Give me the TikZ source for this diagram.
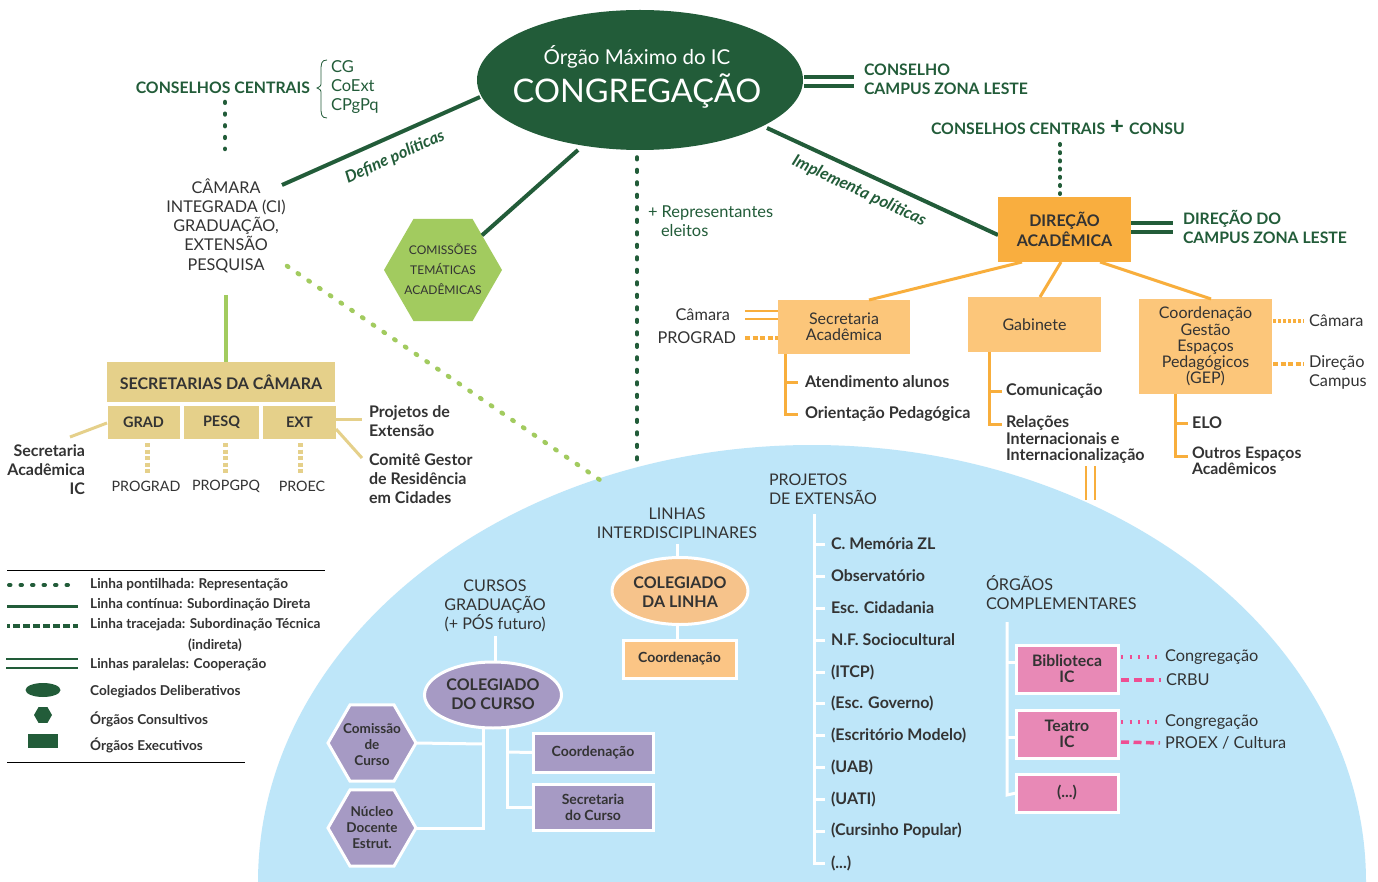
\documentclass[tikz,border=0pt]{standalone}
\usepackage{fontspec}
\setmainfont{Lato}
\usetikzlibrary{shapes.geometric}
\definecolor{dkg}{HTML}{225C39}
\definecolor{orgA}{HTML}{F9AE3F}
\definecolor{orgL}{HTML}{FCC67A}
\definecolor{orgLine}{HTML}{F8AE3C}
\definecolor{lgr}{HTML}{A2CB5F}
\definecolor{tanC}{HTML}{E5D08A}
\definecolor{domeC}{HTML}{BEE6F9}
\definecolor{purC}{HTML}{A69AC4}
\definecolor{peachC}{HTML}{F6C38B}
\definecolor{coordC}{HTML}{FBC585}
\definecolor{pinkC}{HTML}{E889B6}
\definecolor{pinkL}{HTML}{EE4E92}
\definecolor{dtext}{HTML}{333333}
\newcommand{\myellip}{(.\kern0pt..)}
\begin{document}
\begin{tikzpicture}[x=1pt,y=-1pt,
  every node/.style={inner sep=0pt, outer sep=0pt, text=dtext},
  rg/.style={font=\fontsize{16.3}{19}\selectfont},
  bd/.style={font=\bfseries\fontsize{15.8}{19}\selectfont},
  grn/.style={text=dkg},
  gline/.style={draw=dkg, line width=4pt},
  gpar/.style={draw=dkg, line width=3.2pt},
  gdotA/.style={draw=dkg, line width=4.5pt, line cap=round, dash pattern=on 0.8pt off 10.9pt},
  gdotB/.style={draw=dkg, line width=3.5pt, line cap=round, dash pattern=on 2.7pt off 9.8pt},
  gdotC/.style={draw=dkg, line width=4pt, line cap=round, dash pattern=on 1pt off 7.2pt},
  ldot/.style={draw=lgr, line width=4.5pt, line cap=round, dash pattern=on 1.5pt off 11.5pt},
  oline/.style={draw=orgLine, line width=3pt},
  odot/.style={draw=orgLine, line width=3.5pt, dash pattern=on 3pt off 2pt},
  odash/.style={draw=orgLine, line width=3.5pt, dash pattern=on 5pt off 2.5pt},
  tline/.style={draw=tanC, line width=3pt},
  tdash/.style={draw=tanC, line width=5pt, dash pattern=on 4pt off 2.5pt},
  wline/.style={draw=white, line width=3pt},
  pdot/.style={draw=pinkL, line width=4.5pt, dash pattern=on 2pt off 6.6pt},
  pdash/.style={draw=pinkL, line width=3.5pt, dash pattern=on 8pt off 4.5pt},
  obox/.style={fill=orgL, align=center, font=\fontsize{16}{16.2}\selectfont},
  tbox/.style={fill=tanC, font=\bfseries\fontsize{14.5}{16}\selectfont},
  pbox/.style={fill=purC, draw=white, line width=3pt, align=center, font=\bfseries\fontsize{14}{16}\selectfont},
  kbox/.style={fill=pinkC, draw=white, line width=3pt, align=center, font=\bfseries\fontsize{15.8}{16}\selectfont},
  itm/.style={anchor=west, font=\bfseries\fontsize{16}{16}\selectfont},
  hexa/.style={regular polygon, regular polygon sides=6}
]
\fill[white] (0,0) rectangle (1378,882);
\useasboundingbox (0,0) rectangle (1378,882);
\begin{scope}
\clip (0,0) rectangle (1378,882);
\fill[domeC] (812,882) ellipse [x radius=554, y radius=437];
\end{scope}

% ===== Congregacao
\node[ellipse, fill=dkg, minimum width=326pt, minimum height=140pt] (cong) at (640,80) {};
\node[text=white, font=\fontsize{20.5}{24}\selectfont] (congA) at (637,57) {Órgão Máximo do IC};
\node[text=white, font=\fontsize{32.5}{40}\selectfont] (congB) at (637,91) {CONGREGAÇÃO};

\coordinate (cr1) at (804,77); \coordinate (cr2) at (854,77);
\coordinate (cr3) at (804,86); \coordinate (cr4) at (854,86);
\draw[gpar] (cr1) -- (cr2); \draw[gpar] (cr3) -- (cr4);
\node[grn, bd, anchor=west, align=left] (ccz) at (864,79.5) {CONSELHO\\CAMPUS ZONA LESTE};

% ===== Conselhos centrais (left)
\node[grn, bd, anchor=east] (ccl) at (310,88) {CONSELHOS CENTRAIS};
\draw[dkg, line width=0.8pt] (327,60) .. controls (321,60) and (321,64) .. (321,72) -- (321,82) .. controls (321,86) .. (317,88) .. controls (321,90) .. (321,94) -- (321,106) .. controls (321,114) and (321,118) .. (327,118);
\node[grn, anchor=west, align=left, font=\fontsize{16.5}{19}\selectfont] (ccg) at (331,87) {CG\\CoExt\\CPgPq};
\coordinate (cd1) at (225,102); \coordinate (cd2) at (225,149);
\draw[gdotA] (cd1) -- (cd2);

% ===== Camara integrada
\node[align=center, font=\fontsize{16.2}{19.3}\selectfont] (cam) at (226,225.5) {CÂMARA\\INTEGRADA (CI)\\GRADUAÇÃO,\\EXTENSÃO\\PESQUISA};
\coordinate (dp1) at (282,185); \coordinate (dp2) at (480,97);
\draw[gline] (dp1) -- (dp2);
\node[grn, font=\bfseries\itshape\fontsize{16.4}{17}\selectfont, rotate=23.96] (dpl) at (395,157) {Define políticas};

% ===== Comissoes tematicas
\node[hexa, minimum size=118pt, fill=lgr] (cta) at (443,270) {};
\node[align=center, font=\fontsize{12}{20}\selectfont] (ctat) at (443,269) {COMISSÕES\\TEMÁTICAS\\ACADÊMICAS};
\coordinate (ct1) at (578,150);
\draw[gline] (ct1) -- (cta);

% ===== Representantes
\coordinate (rp1) at (637,157); \coordinate (rp2) at (637,467);
\draw[gdotB] (rp1) -- (rp2);
\node[grn, anchor=west, align=left, font=\fontsize{16.4}{19}\selectfont] (rep) at (648,221.5) {+ Representantes\\\hspace*{13pt}eleitos};

% light green dotted
\coordinate (lg1) at (287,266); \coordinate (lg2) at (600,480);
\draw[ldot] (lg1) -- (lg2);

% ===== Implementa
\coordinate (ip1) at (767,128); \coordinate (ip2) at (998,235);
\draw[gline] (ip1) -- (ip2);
\node[grn, font=\bfseries\itshape\fontsize{16.6}{17}\selectfont, rotate=-24.85] (ipl) at (859,191) {Implementa políticas};

% ===== Direcao academica
\node[grn, bd, anchor=west] (ccc) at (931,128) {CONSELHOS CENTRAIS\hspace{5pt}{\fontsize{24}{22}\selectfont +}\hspace{5pt}CONSU};
\coordinate (dd1) at (1060,144); \coordinate (dd2) at (1060,194);
\draw[gdotC] (dd1) -- (dd2);
\node[fill=orgA, minimum width=133pt, minimum height=65pt, align=center, font=\bfseries\fontsize{16}{20}\selectfont] (dir) at (1064.5,229.5) {DIREÇÃO\\ACADÊMICA};
\coordinate (dl1) at (1131,223); \coordinate (dl2) at (1173,223);
\coordinate (dl3) at (1131,232); \coordinate (dl4) at (1173,232);
\draw[gpar] (dl1) -- (dl2); \draw[gpar] (dl3) -- (dl4);
\node[grn, bd, anchor=west, align=left] (dcz) at (1183,226.5) {DIREÇÃO DO\\CAMPUS ZONA LESTE};

% boxes under direcao
\node[obox, minimum width=132pt, minimum height=54pt] (sec) at (844,327) {Secretaria\\Acadêmica};
\node[obox, minimum width=133pt, minimum height=55pt] (gab) at (1034.5,324.5) {Gabinete};
\node[obox, minimum width=133pt, minimum height=95pt] (gep) at (1205.5,346.5) {Coordenação\\Gestão\\Espaços\\Pedagógicos\\(GEP)};
\coordinate (da1) at (1022,262); \coordinate (sa1) at (869,300);
\coordinate (da2) at (1061,262); \coordinate (ga1) at (1040,297);
\coordinate (da3) at (1100,262); \coordinate (ea1) at (1211,299);
\draw[oline] (da1) -- (sa1);
\draw[oline] (da2) -- (ga1);
\draw[oline] (da3) -- (ea1);

% secretaria left
\node[rg, anchor=east] (scam) at (730,315) {Câmara};
\node[rg, anchor=east] (sprog) at (736,338) {PROGRAD};
\coordinate (sl1) at (745,311); \coordinate (sl2) at (778,311);
\coordinate (sl3) at (745,319); \coordinate (sl4) at (778,319);
\coordinate (sl5) at (745,338); \coordinate (sl6) at (778,338);
\draw[orgLine, line width=2.8pt] (sl1) -- (sl2);
\draw[orgLine, line width=2.8pt] (sl3) -- (sl4);
\draw[odash] (sl5) -- (sl6);
% secretaria below
\coordinate (sv1) at (785,354);
\node[bd, anchor=west, font=\bfseries\fontsize{16.1}{19}\selectfont] (sat) at (805,382) {Atendimento alunos};
\node[bd, anchor=west, font=\bfseries\fontsize{16.1}{19}\selectfont] (sor) at (805,414) {Orientação Pedagógica};
\draw[oline] (sv1) -- (785,414) -- ([xshift=-7pt]sor.west);
\draw[oline] (785,382) -- ([xshift=-7pt]sat.west);

% gabinete below
\coordinate (gv1) at (989,352);
\node[anchor=west, font=\bfseries\fontsize{16.1}{19}\selectfont] (gcom) at (1006,391) {Comunicação};
\node[anchor=north west, align=left, font=\bfseries\fontsize{16.1}{16.5}\selectfont] (grel) at (1006,416) {Relações\\Internacionais e\\Internacionalização};
\draw[oline] (gv1) -- (989,424) -- (1002,424);
\draw[oline] (989,391) -- ([xshift=-4pt]gcom.west);
\coordinate (gx1) at (1086,466); \coordinate (gx2) at (1086,500);
\coordinate (gx3) at (1095,466); \coordinate (gx4) at (1095,500);
\draw[orgLine, line width=2.8pt] (gx1) -- (gx2);
\draw[orgLine, line width=2.8pt] (gx3) -- (gx4);

% gep
\node[anchor=west, font=\bfseries\fontsize{16.1}{19}\selectfont] (elo) at (1192,423) {ELO};
\node[anchor=north west, align=left, font=\bfseries\fontsize{15.8}{16.3}\selectfont] (oea) at (1192,447) {Outros Espaços\\Acadêmicos};
\coordinate (gv2) at (1175,394);
\draw[oline] (gv2) -- (1175,456) -- (1188,456);
\draw[oline] (1175,423) -- ([xshift=-4pt]elo.west);
\node[rg, anchor=west] (gcam) at (1309,321) {Câmara};
\node[anchor=west, align=left, font=\fontsize{16.3}{19}\selectfont] (gdc) at (1309,372.5) {Direção\\Campus};
\coordinate (ge1) at (1273,321); \coordinate (ge2) at (1304,321);
\coordinate (ge3) at (1273,364); \coordinate (ge4) at (1304,364);
\draw[odot] (ge1) -- (ge2);
\draw[odash] (ge3) -- (ge4);

% ===== Secretarias da camara
\coordinate (cv1) at (226,295); \coordinate (cv2) at (226,362);
\draw[lgr, line width=4pt] (cv1) -- (cv2);
\node[tbox, minimum width=228pt, minimum height=40pt, font=\bfseries\fontsize{16}{16}\selectfont] (secc) at (221,382) {SECRETARIAS DA CÂMARA};
\node[tbox, minimum width=72pt, minimum height=33pt] (grad) at (143.5,422) {GRAD};
\node[tbox, minimum width=75pt, minimum height=33pt] (pesq) at (221.5,422) {PESQ};
\node[tbox, minimum width=73pt, minimum height=33pt] (ext) at (299.5,422) {EXT};
\node[anchor=east, align=right, font=\bfseries\fontsize{16}{19}\selectfont] (saic) at (85,470) {Secretaria\\Acadêmica\\IC};
\coordinate (gl1) at (107,423); \coordinate (gl2) at (70,437);
\draw[tline] (gl1) -- (gl2);
\node[font=\fontsize{14.3}{16}\selectfont] (pg) at (146,486) {PROGRAD};
\node[font=\fontsize{14.3}{16}\selectfont] (pp) at (226,486) {PROPGPQ};
\node[font=\fontsize{14.3}{16}\selectfont] (pe) at (302,486) {PROEC};
\coordinate (td1) at (147,443); \coordinate (td2) at (147,475);
\coordinate (td3) at (225,443); \coordinate (td4) at (225,475);
\coordinate (td5) at (300,443); \coordinate (td6) at (300,475);
\draw[tdash] (td1) -- (td2);
\draw[tdash] (td3) -- (td4);
\draw[tdash] (td5) -- (td6);
\node[anchor=west, align=left, font=\bfseries\fontsize{16}{19}\selectfont] (pext) at (369,421.5) {Projetos de\\Extensão};
\node[anchor=west, align=left, font=\bfseries\fontsize{16}{19}\selectfont] (cgr) at (369,479) {Comitê Gestor\\de Residência\\em Cidades};
\coordinate (el1) at (336,419); \coordinate (el2) at (362,419);
\coordinate (el3) at (336,429); \coordinate (el4) at (362,458);
\draw[tline] (el1) -- (el2);
\draw[tline] (el3) -- (el4);

% ===== Legend
\coordinate (lga) at (7,570); \coordinate (lgb) at (325,570);
\coordinate (lgc) at (7,762); \coordinate (lgd) at (245,762);
\draw[black, line width=1pt] (lga) -- (lgb);
\draw[black, line width=1pt] (lgc) -- (lgd);
\begin{scope}[every node/.style={anchor=west, inner sep=0pt, text=dtext, font=\bfseries\fontsize{13.6}{15}\selectfont}]
\node (lt1) at (90,585) {Linha pontilhada: Representação};
\node (lt2) at (90,605) {Linha contínua: Subordinação Direta};
\node (lt3) at (90,625) {Linha tracejada: Subordinação Técnica};
\node (lt3b) at (188,645) {(indireta)};
\node (lt4) at (90,665) {Linhas paralelas: Cooperação};
\node (lt5) at (90,692) {Colegiados Deliberativos};
\node (lt6) at (90,719) {Órgãos Consultivos};
\node (lt7) at (90,745) {Órgãos Executivos};
\end{scope}
\coordinate (lx1) at (9,585); \coordinate (lx2) at (77,585);
\coordinate (lx3) at (7,606); \coordinate (lx4) at (78,606);
\coordinate (lx5) at (7,626); \coordinate (lx6) at (78,626);
\coordinate (lx7) at (6,659); \coordinate (lx8) at (78,659);
\coordinate (lx9) at (6,668); \coordinate (lx10) at (78,668);
\draw[dkg, line width=4pt, line cap=round, dash pattern=on 1.5pt off 10pt] (lx1) -- (lx2);
\draw[dkg, line width=3pt] (lx3) -- (lx4);
\draw[dkg, line width=3.5pt, dash pattern=on 3pt off 3pt on 7pt off 3pt on 7pt off 3pt on 7pt off 3pt on 7pt off 3pt on 7pt off 3pt on 7pt off 3pt on 7pt off 3pt] (lx5) -- (lx6);
\draw[dkg, line width=2.5pt] (lx7) -- (lx8);
\draw[dkg, line width=2.5pt] (lx9) -- (lx10);
\node[ellipse, fill=dkg, minimum width=35pt, minimum height=14pt] (lge) at (43,690) {};
\node[hexa, fill=dkg, minimum size=18pt] (lgh) at (43,715) {};
\node[fill=dkg, minimum width=30pt, minimum height=14pt] (lgrr) at (43,741) {};

% ===== Dome: linhas interdisciplinares
\node[align=center, font=\fontsize{16.1}{19}\selectfont] (lin) at (677,523.5) {LINHAS\\INTERDISCIPLINARES};
\node[ellipse, fill=peachC, draw=white, line width=3pt, minimum width=136pt, minimum height=67pt] (cdl) at (680,591) {};
\node[align=center, font=\bfseries\fontsize{16}{19}\selectfont] (cdlt) at (680,592.5) {COLEGIADO\\DA LINHA};
\node[fill=coordC, draw=white, line width=3pt, minimum width=113pt, minimum height=38pt, font=\bfseries\fontsize{14}{16}\selectfont] (cdlc) at (679.5,659) {Coordenação};
\coordinate (li1) at (677,544); \coordinate (li2) at (677,559);
\coordinate (li3) at (677,624); \coordinate (li4) at (677,641);
\draw[wline] (li1) -- (li2);
\draw[wline] (li3) -- (li4);

% cursos
\node[align=center, font=\fontsize{16.1}{19}\selectfont] (cur) at (495,606) {CURSOS\\GRADUAÇÃO\\(+ PÓS futuro)};
\node[ellipse, fill=purC, draw=white, line width=3pt, minimum width=137pt, minimum height=66pt] (cdc) at (493,695) {};
\node[align=center, font=\bfseries\fontsize{16}{19}\selectfont] (cdct) at (493,694) {COLEGIADO\\DO CURSO};
\coordinate (cu1) at (495,636); \coordinate (cu2) at (495,662);
\draw[wline] (cu1) -- (cu2);
\node[hexa, fill=purC, draw=white, line width=3pt, minimum size=88pt] (hcom) at (372,743) {};
\node[align=center, font=\bfseries\fontsize{13.5}{16}\selectfont] (hcomt) at (372,745) {Comissão\\de\\Curso};
\node[hexa, fill=purC, draw=white, line width=3pt, minimum size=88pt] (hnuc) at (372,828) {};
\node[align=center, font=\bfseries\fontsize{13.5}{16}\selectfont] (hnuct) at (372,828) {Núcleo\\Docente\\Estrut.};
\node[pbox, minimum width=120pt, minimum height=39pt] (pcoo) at (593,752.5) {Coordenação};
\node[pbox, minimum width=120pt, minimum height=46pt] (psec) at (593,807) {Secretaria\\do Curso};
\coordinate (cl1) at (483,727); \coordinate (cl2) at (507,727);
\draw[wline] (cl1) -- (483,828) -- (hnuc.east);
\draw[wline] (483,744) -- (hcom.east);
\draw[wline] (cl2) -- (507,807) -- (psec.west);
\draw[wline] (507,752) -- (pcoo.west);

% projetos de extensao
\node[anchor=west, align=left, font=\fontsize{16}{19}\selectfont] (pjx) at (769,489.5) {PROJETOS\\DE EXTENSÃO};
\coordinate (pv1) at (814,514); \coordinate (pv2) at (814,865);
\draw[wline] (pv1) -- (pv2);
\foreach \yy/\itmt [count=\i] in {544/C. Memória ZL, 576/Observatório, 608/Esc. Cidadania, 640/N.F. Sociocultural, 672/(ITCP), 703/(Esc. Governo), 735/(Escritório Modelo), 767/(UAB), 799/(UATI), 831/(Cursinho Popular)}{
  \node[itm] (pj\i) at (831,\yy) {\itmt};
  \draw[wline] (814,\yy) -- ([xshift=-6pt]pj\i.west);
}
\node[itm] (pj11) at (831,863) {\myellip};
\draw[wline] (814,863) -- ([xshift=-6pt]pj11.west);

% orgaos complementares
\node[anchor=west, align=left, font=\fontsize{16.2}{19}\selectfont] (orc) at (986,592.5) {ÓRGÃOS\\COMPLEMENTARES};
\node[kbox, minimum width=102pt, minimum height=48pt] (bib) at (1067,669) {Biblioteca\\IC};
\node[kbox, minimum width=102pt, minimum height=48pt] (tea) at (1067,734) {Teatro\\IC};
\node[kbox, minimum width=102pt, minimum height=38pt] (etc) at (1067,793) {\myellip};
\coordinate (ov1) at (1007,622);
\draw[wline] (ov1) -- (1007,795) -- (etc.west);
\draw[wline] (1007,662) -- (bib.west |- 0,662);
\draw[wline] (1007,737) -- (tea.west |- 0,737);
\node[rg, anchor=west] (bc1) at (1165,657) {Congregação};
\node[rg, anchor=west] (bc2) at (1166,680) {CRBU};
\node[rg, anchor=west] (tc1) at (1165,722) {Congregação};
\node[rg, anchor=west] (tc2) at (1165,743) {PROEX / Cultura};
\draw[pdot] (1121,657) -- ([xshift=-5pt]bc1.west);
\draw[pdash] (1121,680) -- ([xshift=-5pt]bc2.west);
\draw[pdot] (1121,722) -- ([xshift=-5pt]tc1.west);
\draw[pdash] (1121,742) -- ([xshift=-5pt]tc2.west);
\end{tikzpicture}
\end{document}
